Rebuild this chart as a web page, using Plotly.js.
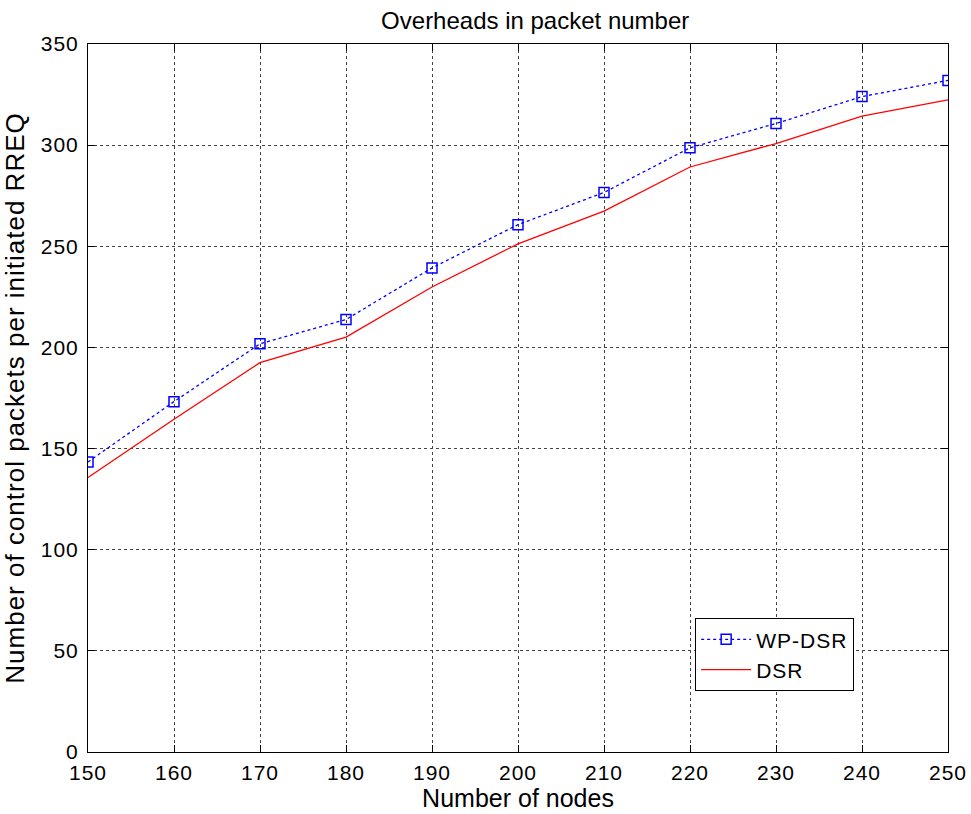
<!DOCTYPE html>
<html>
<head>
<meta charset="utf-8">
<script src="https://cdn.plot.ly/plotly-3.0.1.min.js"></script>
<style>
  html, body { margin: 0; padding: 0; background: #fff; }
  #chart { width: 971px; height: 814px; }
  .xtick text, .ytick text { letter-spacing: 1px; }
  .legendtext { letter-spacing: 1px; }
  .ytitle { letter-spacing: 1px; }
</style>
</head>
<body>
<div id="chart"></div>
<script>
const nodes = [150, 160, 170, 180, 190, 200, 210, 220, 230, 240, 250];
const wpDsr = [143.4, 173.2, 201.8, 213.8, 239.3, 260.7, 276.6, 298.7, 310.7, 324.0, 332.0];
const dsr   = [135.7, 164.5, 192.5, 205.1, 229.9, 251.2, 267.4, 289.2, 300.8, 314.3, 322.4];
const seriesNames = ['WP-DSR', 'DSR'];
const xTickVals = [150, 160, 170, 180, 190, 200, 210, 220, 230, 240, 250];
const yTickVals = [0, 50, 100, 150, 200, 250, 300, 350];

const FONT = 'Liberation Sans, Arial, Helvetica, sans-serif';

const traces = [
  {
    x: nodes, y: wpDsr, name: seriesNames[0], type: 'scatter', mode: 'lines+markers',
    line: { color: '#0000ff', width: 1.3, dash: 'dot' },
    marker: { symbol: 'square-open', size: 10, color: '#0000ff', line: { color: '#0000ff', width: 1.5 } }
  },
  {
    x: nodes, y: dsr, name: seriesNames[1], type: 'scatter', mode: 'lines',
    line: { color: '#ff0000', width: 1.3 }
  }
];

const axisCommon = {
  showline: true, linecolor: '#000', linewidth: 1, mirror: 'ticks',
  ticks: 'inside', ticklen: 7, tickcolor: '#000', tickwidth: 1,
  showgrid: true, gridcolor: '#444', griddash: 'dot', gridwidth: 1,
  zeroline: false,
  tickfont: { family: FONT, size: 21, color: '#000' }
};

const layout = {
  width: 971, height: 814,
  margin: { l: 88, r: 23, t: 44, b: 62 },
  paper_bgcolor: '#fff', plot_bgcolor: '#fff',
  showlegend: true,
  title: {
    text: 'Overheads in packet number',
    font: { family: FONT, size: 24, color: '#000' },
    x: 0.52, xanchor: 'center', xref: 'paper',
    y: 1 - 21 / 814, yref: 'container', yanchor: 'middle'
  },
  xaxis: Object.assign({}, axisCommon, {
    range: [150, 250], tickvals: xTickVals, ticktext: xTickVals.map(String),
    ticklabelstandoff: 2,
    title: { text: 'Number of nodes', font: { family: FONT, size: 25, color: '#000' }, standoff: 4 }
  }),
  yaxis: Object.assign({}, axisCommon, {
    range: [0, 350], tickvals: yTickVals, ticktext: yTickVals.map(String),
    ticklabelstandoff: 4,
    title: { text: 'Number of control packets per initiated RREQ', font: { family: FONT, size: 26, color: '#000' }, standoff: 8 }
  }),
  legend: {
    x: 0.706, y: 0.189, xanchor: 'left', yanchor: 'top',
    bgcolor: '#fff', bordercolor: '#000', borderwidth: 1,
    font: { family: FONT, size: 21, color: '#000' },
    itemwidth: 50, tracegroupgap: 0
  }
};

Plotly.newPlot('chart', traces, layout, { displayModeBar: false, staticPlot: true });
</script>
</body>
</html>
